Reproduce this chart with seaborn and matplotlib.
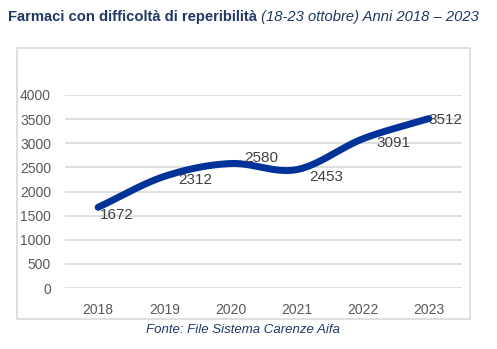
import numpy as np
import pandas as pd
import matplotlib
matplotlib.use("Agg")
import matplotlib.pyplot as plt
import seaborn as sns

years = ["2018", "2019", "2020", "2021", "2022", "2023"]
values = [1672, 2312, 2580, 2453, 3091, 3512]
y_ticks = [0, 500, 1000, 1500, 2000, 2500, 3000, 3500, 4000]
title_bold = "Farmaci con difficoltà di reperibilità"
title_italic = " (18-23 ottobre) Anni 2018 – 2023"
source = "Fonte: File Sistema Carenze Aifa"

sns.set_theme(style="white")
plt.rcParams["font.family"] = ["Liberation Sans", "DejaVu Sans"]

W, H = 497, 349
fig = plt.figure(figsize=(W / 100, H / 100), dpi=100)

# outer chart border
border = plt.Rectangle((17 / W, 1 - 319 / H), (470 - 17) / W, (319 - 48) / H,
                       transform=fig.transFigure, fill=False, edgecolor="#D9D9D9", lw=1.2)
fig.patches.append(border)

ax = fig.add_axes([65 / W, 1 - 288 / H, 397 / W, 193 / H])

# Catmull-Rom smoothing (like Excel smoothed line)
def catmull(x, y, n=40):
    x = np.asarray(x, float); y = np.asarray(y, float)
    px = np.concatenate([[2 * x[0] - x[1]], x, [2 * x[-1] - x[-2]]])
    py = np.concatenate([[2 * y[0] - y[1]], y, [2 * y[-1] - y[-2]]])
    xs, ys = [], []
    for i in range(1, len(px) - 2):
        t = np.linspace(0, 1, n, endpoint=(i == len(px) - 3))
        for P, out in ((px, xs), (py, ys)):
            p0, p1, p2, p3 = P[i - 1], P[i], P[i + 1], P[i + 2]
            out.extend(0.5 * ((2 * p1) + (-p0 + p2) * t + (2 * p0 - 5 * p1 + 4 * p2 - p3) * t ** 2
                              + (-p0 + 3 * p1 - 3 * p2 + p3) * t ** 3))
    return np.array(xs), np.array(ys)

idx = np.arange(len(years))
sx, sy = catmull(idx, values)
df = pd.DataFrame({"x": sx, "y": sy})
sns.lineplot(data=df, x="x", y="y", ax=ax, color="#003399", lw=5,
             solid_capstyle="round", sort=False)

ax.set_xlim(-0.5, len(years) - 0.5)
ax.set_ylim(0, 4000)
ax.set_yticks(y_ticks)
ax.set_yticklabels([str(v) for v in y_ticks])
ax.set_xticks(idx)
ax.set_xticklabels(years)
ax.set_xlabel("")
ax.set_ylabel("")
for s in ax.spines.values():
    s.set_visible(False)
ax.grid(axis="y", color="#D9D9D9", lw=1.2)
ax.set_axisbelow(True)
ax.tick_params(axis="both", length=0, labelsize=10, labelcolor="#595959")
ax.tick_params(axis="y", pad=10)
ax.tick_params(axis="x", pad=11)

# data labels (pixel offsets: left edge dx, vertical center dy)
offsets = [(2, 8), (14, 4), (14, -6), (13, 7), (14, 4), (0, 1)]
for i, v in enumerate(values):
    dx, dy = offsets[i]
    ax.annotate(str(v), (i, v), xytext=(dx * 0.72, -dy * 0.72), textcoords="offset points",
                ha="left", va="center", fontsize=11, color="#404040")

# title
r = fig.canvas.get_renderer()
t1 = fig.text(8 / W, 1 - 17 / H, title_bold, fontsize=10.6, fontweight="bold",
              color="#1F3864", ha="left", va="center")
bb = t1.get_window_extent(renderer=r)
fig.text(bb.x1 / W, 1 - 17 / H, title_italic, fontsize=10.6, fontstyle="italic",
         color="#1F3864", ha="left", va="center")

fig.text(243 / W, 1 - 330 / H, source, fontsize=9.5, fontstyle="italic",
         color="#1F3864", ha="center", va="center")

fig.savefig("out.png", dpi=100)
